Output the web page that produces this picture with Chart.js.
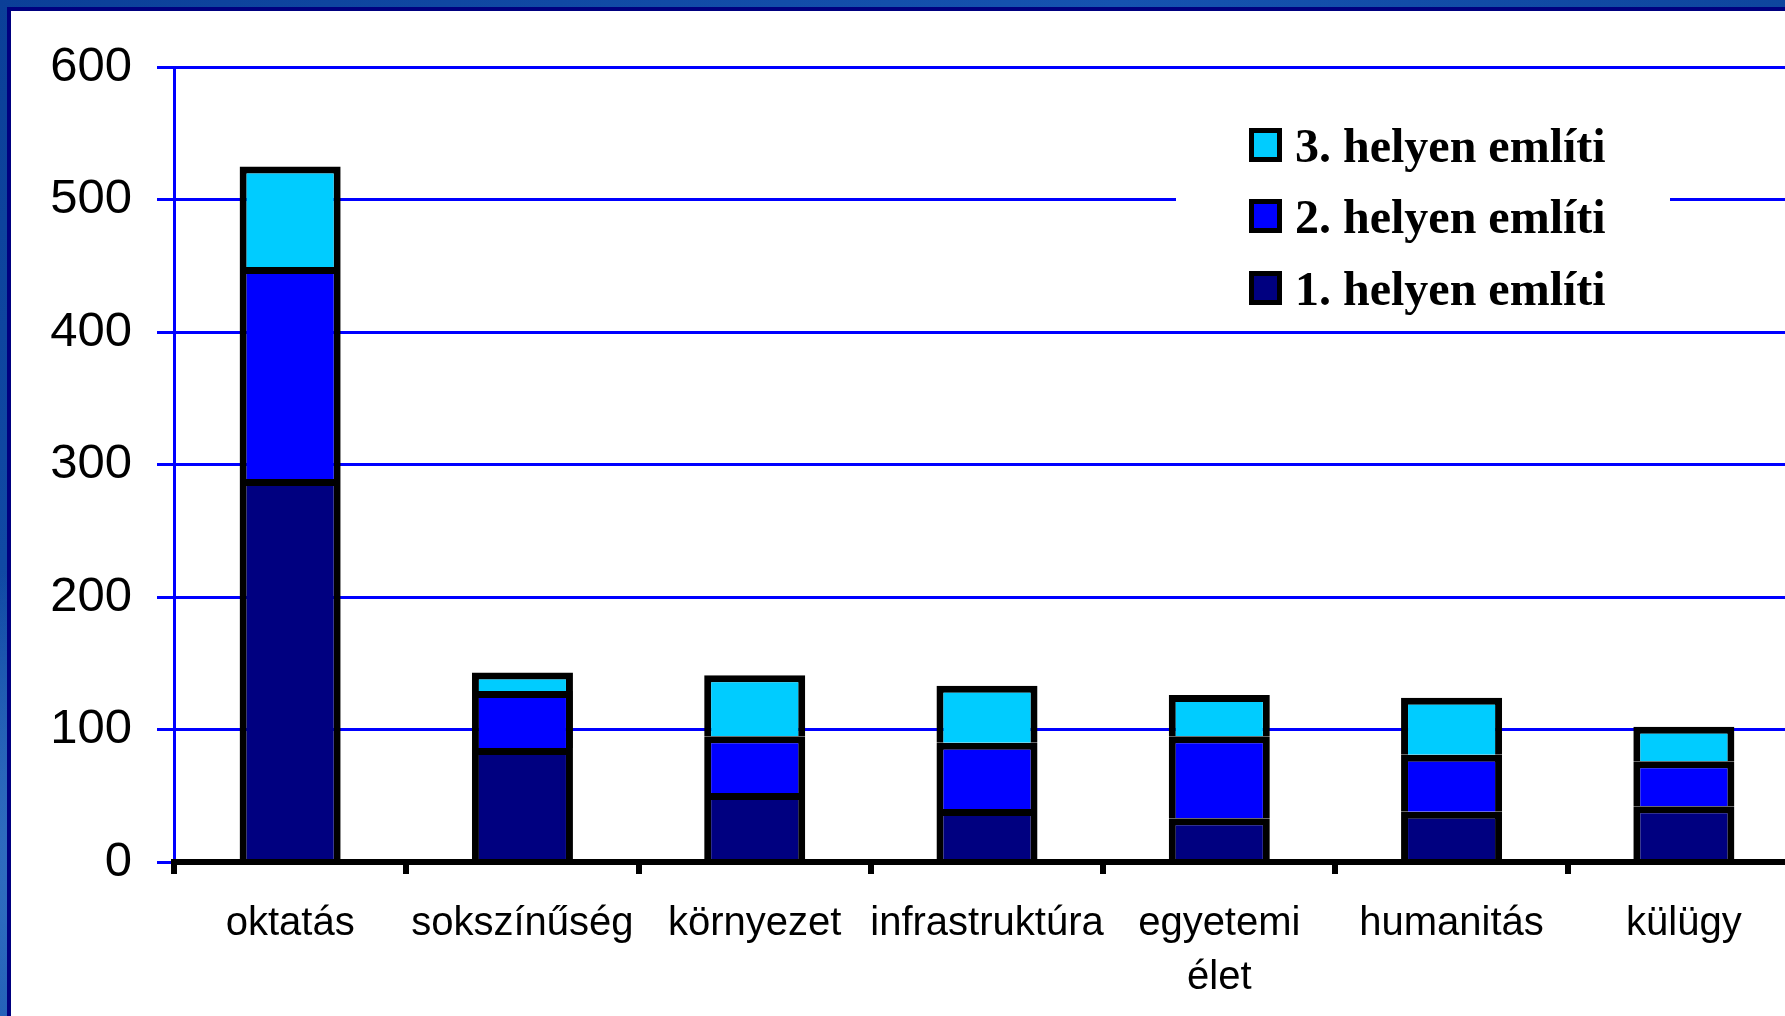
<!DOCTYPE html>
<html><head><meta charset="utf-8">
<script src="https://cdn.jsdelivr.net/npm/chart.js@4.4.1/dist/chart.umd.min.js"></script>
<style>
html,body{margin:0;padding:0;width:1785px;height:1016px;overflow:hidden;}
body{background:radial-gradient(ellipse at 10% 85%, #3a78c8 0%, rgba(58,120,200,0) 25%), linear-gradient(135deg,#0b3f98 0%,#1553b0 40%,#0c4299 70%,#1858b4 100%);}
#panel{position:absolute;left:7px;top:7px;width:1778px;height:1009px;background:#fff;border-left:4px solid #00007f;border-top:4px solid #00007f;box-sizing:border-box;}
#wrap{position:absolute;left:0;top:0;width:1800px;height:1016px;}
canvas{display:block;}
</style></head><body>
<div id="panel"></div>
<div id="wrap"><canvas id="c" width="1800" height="1016" style="width:1800px;height:1016px"></canvas></div>
<script>
const categories = ['oktatás','sokszínűség','környezet','infrastruktúra',['egyetemi','élet'],'humanitás','külügy'];
const seriesLabels = ['1. helyen említi','2. helyen említi','3. helyen említi'];
const seriesColors = ['#000080','#0000ff','#00ccff'];
const first  = [289, 86, 52, 40, 33, 38, 42];
const second = [160, 43, 43, 50, 62, 43, 34];
const third  = [ 76, 14, 46, 43, 31, 43, 26];
const yTicks = [0,100,200,300,400,500,600];

const legendPlugin = {
  id: 'customLegend',
  afterDraw(chart) {
    const ctx = chart.ctx;
    const ds = chart.data.datasets;
    ctx.save();
    ctx.fillStyle = '#fff';
    ctx.fillRect(1176, 100, 494, 220);
    const rows = [145, 216, 288];
    ctx.font = 'bold 48px "Liberation Serif", "Times New Roman", serif';
    ctx.textBaseline = 'alphabetic';
    ctx.textAlign = 'left';
    for (let i = 0; i < 3; i++) {
      const d = ds[2 - i];
      const cy = rows[i];
      ctx.fillStyle = '#000';
      ctx.fillRect(1249, cy - 17, 33, 34);
      ctx.fillStyle = d.backgroundColor;
      ctx.fillRect(1254, cy - 12, 23, 24);
      ctx.fillStyle = '#000';
      ctx.fillText(d.label, 1295, cy + 17);
    }
    ctx.restore();
  }
};

const mkDs = (label, data, color) => ({
  label, data, backgroundColor: color, borderColor: '#000', borderWidth: 7,
  borderSkipped: 'start', barPercentage: 0.435, categoryPercentage: 1.0
});

new Chart(document.getElementById('c'), {
  type: 'bar',
  data: {
    labels: categories,
    datasets: [
      mkDs(seriesLabels[0], first, seriesColors[0]),
      mkDs(seriesLabels[1], second, seriesColors[1]),
      mkDs(seriesLabels[2], third, seriesColors[2])
    ]
  },
  options: {
    responsive: false,
    animation: false,
    layout: { padding: { top: 67, left: 0, right: 0, bottom: 0 } },
    plugins: { legend: { display: false }, tooltip: { enabled: false } },
    scales: {
      x: {
        stacked: true,
        grid: { display: true, drawOnChartArea: false, drawTicks: true, tickLength: 12, color: '#000', lineWidth: 6, offset: true },
        border: { display: true, color: '#000', width: 6, z: 1 },
        ticks: { color: '#000', font: { family: '"Liberation Sans", Arial, sans-serif', size: 40, lineHeight: 1.35 }, padding: 23, autoSkip: false, maxRotation: 0 },
        afterFit: s => { s.height = 154; }
      },
      y: {
        stacked: true, min: 0, max: 600,
        afterBuildTicks: s => { s.ticks = yTicks.map(v => ({ value: v })); },
        ticks: { color: '#000', font: { family: '"Liberation Sans", Arial, sans-serif', size: 49 }, padding: 25 },
        grid: { color: '#0000ff', lineWidth: 3, tickLength: 17, drawTicks: true },
        border: { color: '#0000ff', width: 3 },
        afterFit: s => { s.width = 174; }
      }
    }
  },
  plugins: [legendPlugin]
});
</script>
</body></html>
